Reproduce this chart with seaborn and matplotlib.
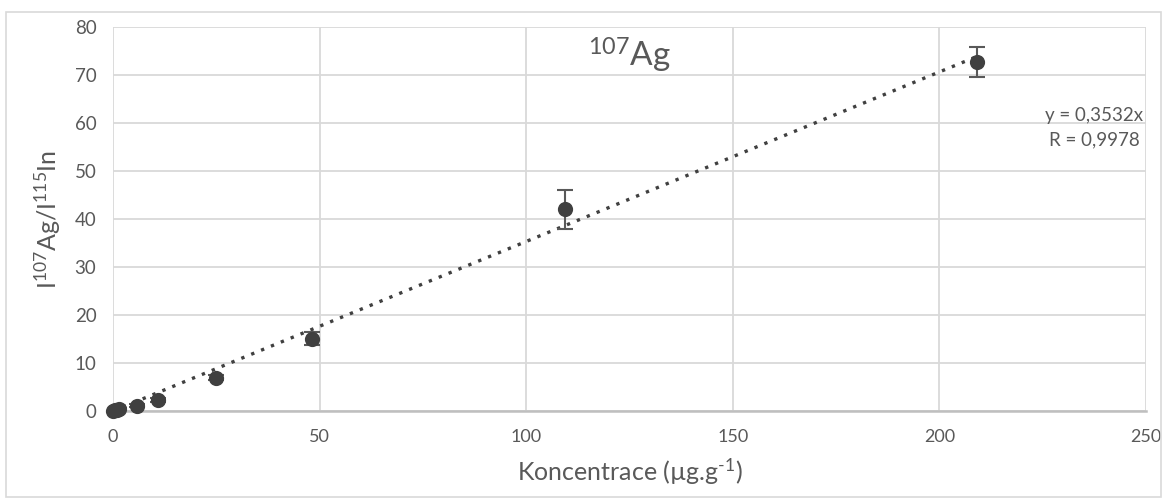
import numpy as np
import pandas as pd
import matplotlib
matplotlib.use("Agg")
import matplotlib.pyplot as plt
import seaborn as sns

# Datos de calibración 107Ag
koncentrace = [0.0, 0.5, 1.0, 1.5, 5.7, 10.8, 24.8, 48.2, 109.5, 209.0]
pomer = [0.0, 0.12, 0.3, 0.5, 1.1, 2.3, 6.9, 15.1, 42.0, 72.7]
chyba = [0.1, 0.1, 0.1, 0.15, 0.3, 0.4, 0.5, 1.3, 4.0, 3.2]
smernice = 0.3532
r_hodnota = "0,9978"

x_ticks = [0, 50, 100, 150, 200, 250]
y_ticks = [0, 10, 20, 30, 40, 50, 60, 70, 80]

df = pd.DataFrame({"x": koncentrace, "y": pomer, "err": chyba})

sns.set_theme(style="white")
plt.rcParams["font.family"] = ["Lato", "DejaVu Sans"]
plt.rcParams["mathtext.fontset"] = "custom"
plt.rcParams["mathtext.rm"] = "Lato"
plt.rcParams["mathtext.it"] = "Lato:italic"
plt.rcParams["mathtext.default"] = "regular"

barva = "#404040"
sedy_text = "#595959"
fig = plt.figure(figsize=(11.63, 4.98), dpi=100)
ax = fig.add_axes([0.0972, 0.1747, 0.8882, 0.7711])

# rámeček kolem celého grafu
fig.patches.append(plt.Rectangle((0.005, 0.002), 0.993, 0.973, transform=fig.transFigure,
                                 fill=False, edgecolor="#d9d9d9", linewidth=1.2, zorder=0))

# spojnice trendu
trend = pd.DataFrame({"x": [0, max(koncentrace)]})
trend["y"] = smernice * trend["x"]
sns.lineplot(data=trend, x="x", y="y", ax=ax, color=barva, linestyle=(0, (1, 2.2)),
             linewidth=2.4, zorder=3)

ax.errorbar(df["x"], df["y"], yerr=df["err"], fmt="none", ecolor=sedy_text,
            elinewidth=1.5, capsize=6, capthick=1.5, zorder=4)
sns.scatterplot(data=df, x="x", y="y", ax=ax, color=barva, s=120, edgecolor=barva,
                linewidth=0, zorder=5, clip_on=False)

ax.set_xlim(0, 250)
ax.set_ylim(0, 80)
ax.set_xticks(x_ticks)
ax.set_yticks(y_ticks)
ax.grid(True, color="#d9d9d9", linewidth=1.3)
ax.set_axisbelow(True)
for side in ["top", "right", "left"]:
    ax.spines[side].set_visible(False)
ax.spines["bottom"].set_color("#bfbfbf")
ax.spines["bottom"].set_linewidth(1.8)
ax.tick_params(axis="x", colors=sedy_text, labelsize=13, length=0, pad=13)
ax.tick_params(axis="y", colors=sedy_text, labelsize=13.5, length=0, pad=12)

ax.set_xlabel(r"Koncentrace (µg.g$^{\text{-}1}$)", fontsize=18, color=sedy_text, labelpad=8)
ax.set_ylabel("I$^{107}$Ag/I$^{115}$In", fontsize=18, color=sedy_text, labelpad=8)

ax.text(0.5, 0.925, "$^{107}$Ag", transform=ax.transAxes, ha="center", va="center",
        fontsize=24, color=sedy_text)
ax.text(237.5, 61.5, f"y = {str(smernice).replace('.', ',')}x", ha="center", va="center",
        fontsize=13.5, color=sedy_text)
ax.text(237.5, 56.5, f"R = {r_hodnota}", ha="center", va="center", fontsize=13.5,
        color=sedy_text)

fig.savefig("out.png", dpi=100)
